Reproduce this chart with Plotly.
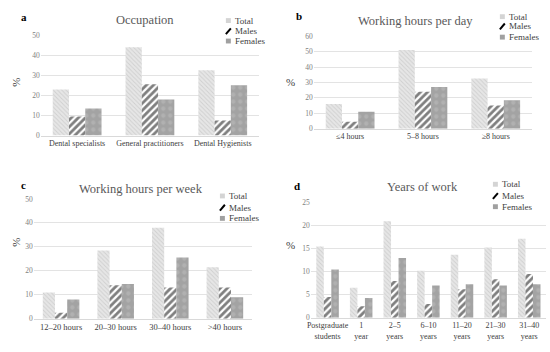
import plotly.graph_objects as go

W, H = 550, 352
FONT = "Liberation Serif, Times New Roman, DejaVu Serif, serif"

series_names = ["Total", "Males", "Females"]

occ_cats = ["Dental specialists", "General practitioners", "Dental Hygienists"]
occ_total = [23, 44, 32.5]
occ_males = [9.5, 25.5, 7.5]
occ_females = [13.5, 18, 25]

day_cats = ["≤4 hours", "5–8 hours", "≥8 hours"]
day_total = [16, 51, 32.5]
day_males = [4.5, 24, 15]
day_females = [11, 27, 18.5]

week_cats = ["12–20 hours", "20–30 hours", "30–40 hours", ">40 hours"]
week_total = [11, 28.5, 38, 21.5]
week_males = [2.5, 14, 13, 13]
week_females = [8, 14.5, 25.5, 9]

years_cats = ["Postgraduate<br>students", "1<br>year", "2–5<br>years", "6–10<br>years",
              "11–20<br>years", "21–30<br>years", "31–40<br>years"]
years_total = [15.5, 6.5, 21, 10.2, 13.7, 15.3, 17.2]
years_males = [4.5, 2.5, 8, 3, 6.2, 8.4, 9.5]
years_females = [10.5, 4.3, 13, 7, 7.3, 7, 7.3]

panel_titles = ["Occupation", "Working hours per day", "Working hours per week", "Years of work"]
panel_letters = ["a", "b", "c", "d"]
y_max = [50, 60, 50, 25]
y_dtick = [10, 10, 10, 5]


def px(x):
    return x / W


def py(y):
    return 1 - y / H


# plot-area pixel boxes: (left, right, top, bottom)
boxes = [(37, 257, 32, 135), (312, 532, 33, 128), (30, 250, 200, 323), (309, 546, 204, 322)]
title_pos = [(142, 16), (415, 17), (138, 190), (422, 188)]
letter_pos = [(20, 13), (297, 12), (20, 186), (295, 187)]
pct_pos = [(12, 80, -90), (289, 80, 0), (12, 244, -90), (289, 247, 0)]
legend_pos = [(226, [17, 28, 38]), (502, [13, 23, 34]), (220, [197, 209, 220]), (495, [185, 197, 208])]
cat_font = [8, 8, 8.5, 8]

data = [
    (occ_cats, [occ_total, occ_males, occ_females]),
    (day_cats, [day_total, day_males, day_females]),
    (week_cats, [week_total, week_males, week_females]),
    (years_cats, [years_total, years_males, years_females]),
]

styles = {
    "Total": dict(color="#d9d9d9", line=dict(width=0),
                  pattern=dict(shape="\\", fgcolor="#b8b8b8", bgcolor="#e6e6e6", size=3, solidity=0.3)),
    "Males": dict(color="#ffffff", line=dict(width=0),
                  pattern=dict(shape="/", fgcolor="#000000", bgcolor="#ffffff", size=5, solidity=0.55)),
    "Females": dict(color="#a6a6a6", line=dict(width=0),
                    pattern=dict(shape=".", fgcolor="#c0c0c0", bgcolor="#a3a3a3", size=7, solidity=0.3)),
}

fig = go.Figure()
annotations = []
shapes = []

for i, (cats, vals) in enumerate(data):
    n = i + 1
    xa = "x" if n == 1 else f"x{n}"
    ya = "y" if n == 1 else f"y{n}"
    for name, v in zip(series_names, vals):
        fig.add_trace(go.Bar(x=cats, y=v, name=name, marker=styles[name],
                             xaxis=xa, yaxis=ya, showlegend=False))
    l, r, t, b = boxes[i]
    xkey = "xaxis" if n == 1 else f"xaxis{n}"
    ykey = "yaxis" if n == 1 else f"yaxis{n}"
    fig.update_layout(**{
        xkey: dict(domain=[px(l), px(r)], anchor=ya, showgrid=False, showline=True,
                   linecolor="#d9d9d9", linewidth=1, ticks="", tickangle=0,
                   tickfont=dict(family=FONT, size=cat_font[i], color="#404040"), fixedrange=True),
        ykey: dict(domain=[py(b), py(t)], anchor=xa, range=[0, y_max[i]], dtick=y_dtick[i],
                   showgrid=True, gridcolor="#e3e3e3", gridwidth=1, zeroline=False,
                   showline=False, ticks="",
                   tickfont=dict(family=FONT, size=7.5, color="#808080"), fixedrange=True),
    })
    tx, ty = title_pos[i]
    annotations.append(dict(text=panel_titles[i], x=px(tx), y=py(ty), xref="paper", yref="paper",
                            showarrow=False, xanchor="center", yanchor="middle",
                            font=dict(family=FONT, size=12.5, color="#595959")))
    lx, ly = letter_pos[i]
    annotations.append(dict(text=f"<b>{panel_letters[i]}</b>", x=px(lx), y=py(ly), xref="paper",
                            yref="paper", showarrow=False, xanchor="center", yanchor="middle",
                            font=dict(family=FONT, size=11, color="#000000")))
    cx, cy, ang = pct_pos[i]
    annotations.append(dict(text="%", x=px(cx), y=py(cy), xref="paper", yref="paper",
                            showarrow=False, xanchor="center", yanchor="middle", textangle=ang,
                            font=dict(family=FONT, size=11, color="#404040")))
    sx, rows = legend_pos[i]
    for name, ry in zip(series_names, rows):
        if name == "Males":
            shapes.append(dict(type="line", xref="paper", yref="paper",
                               x0=px(sx - 2.5), y0=py(ry + 3), x1=px(sx + 2.5), y1=py(ry - 3),
                               line=dict(color="#000000", width=2)))
        else:
            c = "#d4d4d4" if name == "Total" else "#a0a0a0"
            shapes.append(dict(type="rect", xref="paper", yref="paper",
                               x0=px(sx - 2.5), y0=py(ry + 2.5), x1=px(sx + 2.5), y1=py(ry - 2.5),
                               fillcolor=c, line=dict(width=0)))
        annotations.append(dict(text=name, x=px(sx + 5), y=py(ry), xref="paper", yref="paper",
                                showarrow=False, xanchor="left", yanchor="middle",
                                font=dict(family=FONT, size=9, color="#404040")))

fig.update_layout(
    width=W, height=H, margin=dict(l=0, r=0, t=0, b=0),
    paper_bgcolor="white", plot_bgcolor="white",
    barmode="group", bargap=0.33, bargroupgap=0,
    showlegend=False, annotations=annotations, shapes=shapes,
    font=dict(family=FONT), hovermode=False,
)

fig.write_html("out.html", config={"displayModeBar": False, "staticPlot": True},
               post_script="document.body.style.margin='0';document.body.style.overflow='hidden';")
